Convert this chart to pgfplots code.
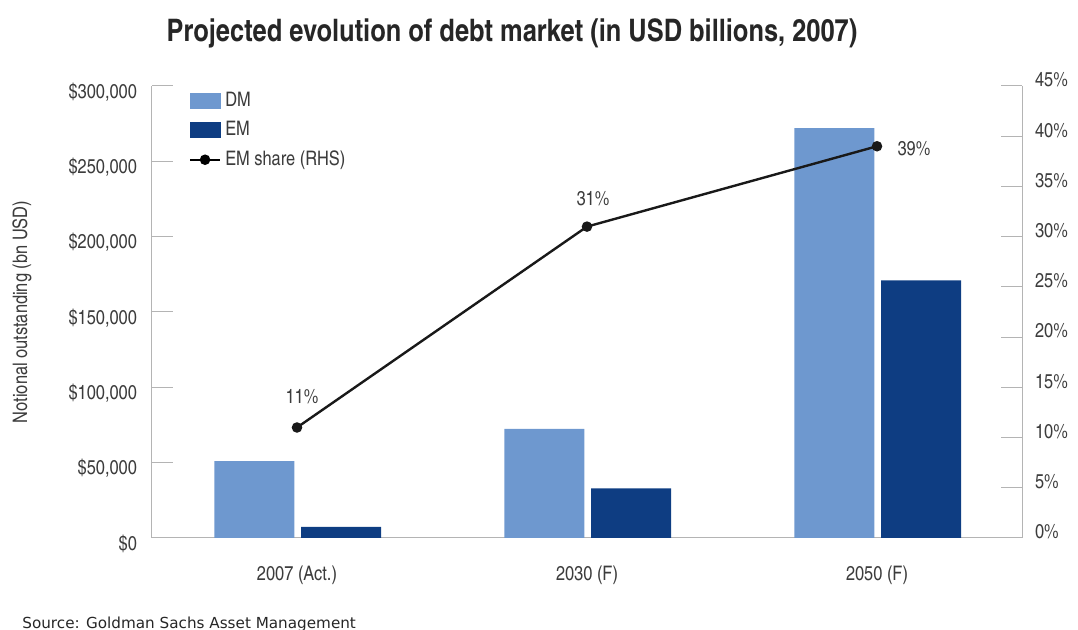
\documentclass[border=0pt]{standalone}
\usepackage{pgfplots}
\pgfplotsset{compat=1.18}
\usepackage{fontspec}
\setmainfont{texgyreheroscn}[Extension=.otf, UprightFont=*-regular, BoldFont=*-bold, ItalicFont=*-italic, BoldItalicFont=*-bolditalic]
\newfontfamily\srcfont{DejaVu Sans}

\definecolor{dmcol}{HTML}{6E98CF}
\definecolor{emcol}{HTML}{0E3D82}
\definecolor{txt}{HTML}{3C3C3C}
\definecolor{axl}{HTML}{B4B4B4}

\pgfplotsset{
  base/.style={
    scale only axis, width=435pt, height=226pt,
    xmin=-0.5, xmax=2.5,
    axis line style={axl, line width=0.5pt},
    tick style={axl, line width=0.5pt},
    major tick length=10.5pt, tick align=inside,
    tick label style={font=\fontsize{10}{12}\selectfont, text=txt},
    scaled y ticks=false,
  },
}

\begin{document}
\begin{tikzpicture}
\path[use as bounding box] (-76pt,-46pt) rectangle (463pt,269pt);

\begin{axis}[base,
    axis x line*=bottom, axis y line*=left,
    ymin=0, ymax=300000,
    ytick={0,50000,100000,150000,200000,250000,300000},
    yticklabels={{\$0},{\$50,000},{\$100,000},{\$150,000},{\$200,000},{\$250,000},{\$300,000}},
    yticklabel style={anchor=east, xshift=-4pt, yshift=-3pt},
    xtick={0,1,2}, xtick style={draw=none},
    xticklabels={{2007 (Act.)},{2030 (F)},{\raisebox{-4pt}{2050 (F)}}},
    xticklabel style={anchor=center, yshift=-8pt},
    ylabel={Notional outstanding (bn USD)},
    ylabel style={at={(axis description cs:0,0.5)}, anchor=center, rotate=0, yshift=65pt,
      font=\fontsize{10}{12}\selectfont, text=txt},
    ybar, bar width=0.276,
]
\addplot[fill=dmcol, draw=none, bar shift=-0.147] coordinates {(0,51000) (1,72500) (2,272000)};
\addplot[fill=emcol, draw=none, bar shift=0.152] coordinates {(0,7300) (1,33000) (2,171000)};
\end{axis}

\begin{axis}[base,
    axis y line*=right, axis x line=none,
    ymin=0, ymax=45,
    ytick={0,5,...,45},
    yticklabels={0\%,5\%,10\%,15\%,20\%,25\%,30\%,35\%,40\%,45\%},
    yticklabel style={anchor=west, xshift=3pt, yshift=3pt},
    legend style={at={(0.035,1.005)}, anchor=north west, draw=none, fill=none,
      font=\fontsize{10}{12}\selectfont, text=txt, row sep=2pt,
      /tikz/every even column/.append style={column sep=2pt}},
    legend cell align=left,
]
\addlegendimage{legend image code/.code={\fill[dmcol] (0pt,-3.8pt) rectangle (15pt,3.8pt);}}
\addlegendentry{DM}
\addlegendimage{legend image code/.code={\fill[emcol] (0pt,-3.8pt) rectangle (15pt,3.8pt);}}
\addlegendentry{EM}
\addplot[black!90, line width=1.2pt, mark=*, mark size=2pt,
  legend image code/.code={\draw[black, line width=1.2pt] (0pt,0pt) -- (15pt,0pt); \fill[black] (7.5pt,0pt) circle (2pt);}]
  coordinates {(0,11) (1,31) (2,39)};
\addlegendentry{EM share (RHS)}
\node[text=txt, font=\fontsize{10}{12}\selectfont, xshift=2.5pt, yshift=15.5pt] at (axis cs:0,11) {11\%};
\node[text=txt, font=\fontsize{10}{12}\selectfont, xshift=3pt, yshift=14pt] at (axis cs:1,31) {31\%};
\node[text=txt, font=\fontsize{10}{12}\selectfont, xshift=18.5pt, yshift=-1pt] at (axis cs:2,39) {39\%};
\end{axis}

\node[font=\bfseries\fontsize{15.5}{18}\selectfont, text=black!85] at (180pt,252.5pt) {Projected evolution of debt market (in USD billions, 2007)};
\node[anchor=west, inner sep=0pt, font=\srcfont\fontsize{7.6}{9}\selectfont, text=black!85] at (-65pt,-43pt) {Source: Goldman Sachs Asset Management};
\end{tikzpicture}
\end{document}
